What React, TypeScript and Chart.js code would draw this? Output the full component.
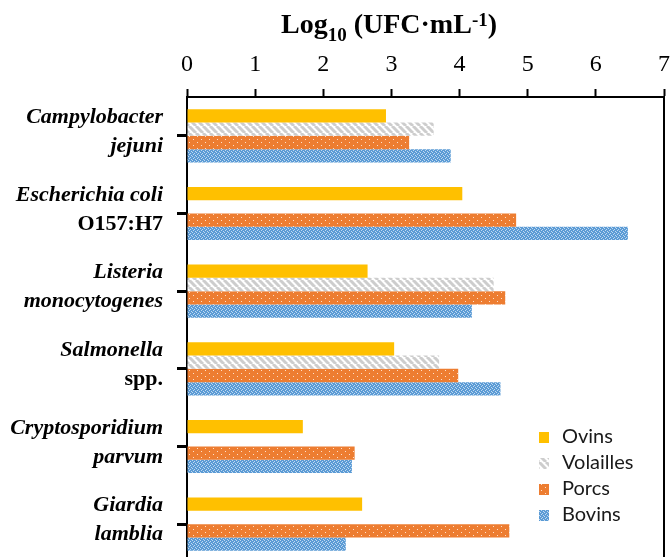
import { useEffect, useRef } from "react";
import { Chart, registerables } from "chart.js";

Chart.register(...registerables);

// ---- data ----
const categories: string[][] = [
  ["Campylobacter", "jejuni"],
  ["Escherichia coli", "O157:H7"],
  ["Listeria", "monocytogenes"],
  ["Salmonella", "spp."],
  ["Cryptosporidium", "parvum"],
  ["Giardia", "lamblia"],
];
const seriesNames = ["Ovins", "Volailles", "Porcs", "Bovins"];
const ovins = [2.92, 4.04, 2.65, 3.04, 1.7, 2.57];
const volailles = [3.62, null, 4.5, 3.7, null, null];
const porcs = [3.26, 4.83, 4.67, 3.98, 2.46, 4.73];
const bovins = [3.87, 6.47, 4.18, 4.6, 2.42, 2.33];
const xTicks = [0, 1, 2, 3, 4, 5, 6, 7];

// lines of the category labels that are not italic (serotype / abbreviation)
const UPRIGHT = new Set(["O157:H7", "spp."]);

function makePattern(
  w: number,
  h: number,
  draw: (g: CanvasRenderingContext2D) => void
): CanvasPattern {
  const c = document.createElement("canvas");
  c.width = w;
  c.height = h;
  const g = c.getContext("2d")!;
  draw(g);
  return g.createPattern(c, "repeat")!;
}

const legendPlugin = {
  id: "insideLegend",
  afterDraw(chart: any, _args: any, opts: any) {
    const { ctx, chartArea } = chart;
    const x = chartArea.right - opts.right;
    let y = chartArea.bottom - opts.bottom;
    ctx.save();
    ctx.font = opts.font;
    ctx.textBaseline = "middle";
    ctx.textAlign = "left";
    chart.data.datasets.forEach((ds: any) => {
      ctx.fillStyle = ds.backgroundColor;
      ctx.fillRect(x, y - opts.box / 2, opts.box, opts.box + 1);
      ctx.fillStyle = opts.color;
      ctx.fillText(ds.label, x + opts.gap, y);
      y += opts.row;
    });
    ctx.restore();
  },
};

const catLabelPlugin = {
  id: "catLabels",
  afterDraw(chart: any, _args: any, opts: any) {
    const scale = chart.scales.y;
    const ctx = chart.ctx;
    ctx.save();
    ctx.textAlign = "right";
    ctx.textBaseline = "middle";
    ctx.fillStyle = "#000";
    const x = scale.right - opts.gap;
    (chart.data.labels as string[][]).forEach((lines, i) => {
      const cy = scale.getPixelForValue(i) + opts.offset;
      lines.forEach((t, j) => {
        const ly = cy + (j - (lines.length - 1) / 2) * opts.lineHeight;
        ctx.font = `${UPRIGHT.has(t) ? "" : "italic "}bold ${opts.size}px 'Liberation Serif'`;
        ctx.fillText(t, x, ly);
      });
    });
    ctx.restore();
  },
};

const rightBorderPlugin = {
  id: "rightBorder",
  afterDraw(chart: any) {
    const { ctx, chartArea } = chart;
    ctx.save();
    ctx.strokeStyle = "#000";
    ctx.lineWidth = 2;
    ctx.beginPath();
    ctx.moveTo(chartArea.right, chartArea.top - 1);
    ctx.lineTo(chartArea.right, chart.height);
    ctx.stroke();
    ctx.restore();
  },
};

export default function App() {
  const ref = useRef<HTMLCanvasElement | null>(null);

  useEffect(() => {
    if (!ref.current) return;

    const ovinsFill = "#FFC000";
    const volaillesFill = makePattern(7, 7, (g) => {
      g.fillStyle = "#ffffff";
      g.fillRect(0, 0, 7, 7);
      g.strokeStyle = "#CDCDCD";
      g.lineWidth = 3;
      for (const k of [-7, 0, 7]) {
        g.beginPath();
        g.moveTo(k, 0);
        g.lineTo(k + 7, 7);
        g.stroke();
      }
    });
    const porcsFill = makePattern(8, 6, (g) => {
      g.fillStyle = "#ED7D31";
      g.fillRect(0, 0, 8, 6);
      g.fillStyle = "rgba(255,235,220,0.9)";
      g.fillRect(1, 1, 1, 1);
      g.fillRect(5, 4, 1, 1);
    });
    const bovinsFill = makePattern(4, 4, (g) => {
      g.fillStyle = "#5B9BD5";
      g.fillRect(0, 0, 4, 4);
      g.fillStyle = "rgba(225,238,250,0.75)";
      g.fillRect(0, 0, 1, 1);
      g.fillRect(2, 1, 1, 1);
      g.fillRect(1, 2, 1, 1);
      g.fillRect(3, 3, 1, 1);
    });

    const fills = [ovinsFill, volaillesFill, porcsFill, bovinsFill];
    const values = [ovins, volailles, porcs, bovins];

    const chart = new Chart(ref.current, {
      type: "bar",
      data: {
        labels: categories as any,
        datasets: seriesNames.map((name, i) => ({
          label: name,
          data: values[i] as any,
          backgroundColor: fills[i] as any,
          borderWidth: 0,
          categoryPercentage: 0.685,
          barPercentage: 1,
        })),
      },
      options: {
        indexAxis: "y",
        animation: false,
        responsive: true,
        maintainAspectRatio: false,
        layout: { padding: { top: 0, right: 13, bottom: 0, left: 0 } },
        plugins: {
          legend: { display: false },
          tooltip: { enabled: false },
          insideLegend: {
            right: 125,
            bottom: 126,
            row: 26,
            box: 10,
            gap: 23,
            font: "20px Lato",
            color: "#1a1a1a",
          },
          catLabels: { gap: 24, offset: -4, lineHeight: 29, size: 22 },
        } as any,
        scales: {
          x: {
            position: "top",
            min: xTicks[0],
            max: xTicks[xTicks.length - 1],
            ticks: {
              stepSize: 1,
              color: "#000",
              padding: 10,
              maxRotation: 0,
              autoSkip: false,
              font: { family: "'Liberation Serif'", size: 24 },
            },
            grid: {
              drawOnChartArea: false,
              tickLength: 8,
              tickWidth: 2,
              tickColor: "#000",
            },
            border: { color: "#000", width: 2 },
            afterFit: (s: any) => {
              s.height = 97;
            },
          },
          y: {
            ticks: { display: false },
            grid: {
              drawOnChartArea: false,
              offset: false,
              tickLength: 10,
              tickWidth: 3,
              tickColor: "#000",
            },
            border: { color: "#000", width: 2 },
            afterFit: (s: any) => {
              s.width = 187;
            },
          },
        },
      },
      plugins: [legendPlugin, catLabelPlugin, rightBorderPlugin],
    });

    return () => chart.destroy();
  }, []);

  return (
    <div
      style={{
        position: "fixed",
        left: 0,
        top: 0,
        width: 680,
        height: 563,
        background: "#fff",
        overflow: "hidden",
      }}
    >
      <canvas ref={ref} style={{ display: "block" }} />
      <div
        style={{
          position: "absolute",
          left: 389,
          top: 10,
          transform: "translateX(-50%)",
          font: "bold 28px 'Liberation Serif'",
          lineHeight: "28px",
          whiteSpace: "nowrap",
          color: "#000",
        }}
      >
        Log
        <span style={{ fontSize: 19, position: "relative", top: 8 }}>10</span>
        {" (UFC·mL"}
        <span style={{ fontSize: 19, position: "relative", top: -7 }}>-1</span>
        {")"}
      </div>
    </div>
  );
}
